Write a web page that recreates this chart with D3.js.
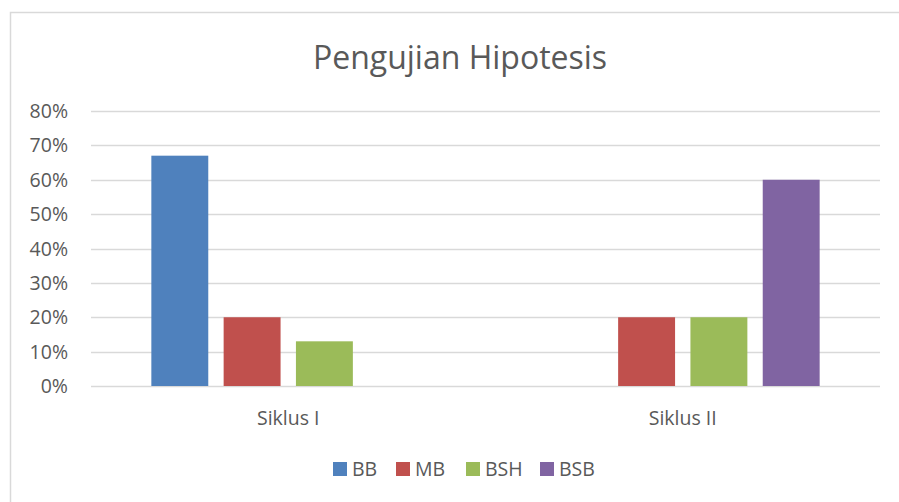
<!DOCTYPE html>
<html>
<head>
<meta charset="utf-8">
<script src="https://cdn.jsdelivr.net/npm/d3@7"></script>
<style>
    body { margin: 0; background: #fff; }
    text { font-family: "Open Sans", "Noto Sans", sans-serif; fill: #595959; }
</style>
</head>
<body>
<div id="chart"></div>
<script>
var categories = ["Siklus I", "Siklus II"];
var seriesNames = ["BB", "MB", "BSH", "BSB"];
var seriesColors = ["#4F81BD", "#C0504D", "#9BBB59", "#8064A2"];
var values = {
    "BB":  [0.67, 0],
    "MB":  [0.20, 0.20],
    "BSH": [0.13, 0.20],
    "BSB": [0, 0.60]
};
var yTicks = [0, 0.1, 0.2, 0.3, 0.4, 0.5, 0.6, 0.7, 0.8];

var w = 899, h = 502;
var margin = {top: 111, right: 19, bottom: 116, left: 91};
var width = w - margin.left - margin.right,
    height = h - margin.top - margin.bottom;

var svg = d3.select("#chart").append("svg")
    .attr("width", w)
    .attr("height", h);

// chart area border (cut off on right and bottom like the screenshot)
svg.append("path")
    .attr("d", "M10.5," + (h + 2) + "V12.5H" + (w + 2))
    .attr("fill", "none")
    .attr("stroke", "#D9D9D9")
    .attr("stroke-width", 1.5);

svg.append("text")
    .attr("x", 460)
    .attr("y", 69)
    .attr("text-anchor", "middle")
    .style("font-size", "32px")
    .text("Pengujian Hipotesis");

var g = svg.append("g")
    .attr("transform", "translate(" + margin.left + "," + margin.top + ")");

var y = d3.scaleLinear().domain([0, 0.8]).range([height, 0]);

var x0 = d3.scaleBand()
    .domain(categories)
    .range([0, width])
    .paddingInner(0)
    .paddingOuter(0);

// group width = 4 bars + 3 small gaps inside each band
var barW = x0.bandwidth() / 6.93;
var x1 = d3.scaleBand()
    .domain(seriesNames)
    .range([0, barW * 4 + barW * 0.27 * 3])
    .paddingInner(0.27 / 1.27)
    .paddingOuter(0);

// gridlines
g.selectAll(".grid")
    .data(yTicks)
    .enter().append("line")
    .attr("x1", 0)
    .attr("x2", width)
    .attr("y1", function (d) { return Math.round(y(d)) + 0.5; })
    .attr("y2", function (d) { return Math.round(y(d)) + 0.5; })
    .attr("stroke", "#D9D9D9")
    .attr("stroke-width", 1.5);

// y labels
g.selectAll(".ylab")
    .data(yTicks)
    .enter().append("text")
    .attr("x", -23)
    .attr("y", function (d) { return y(d); })
    .attr("dy", "0.36em")
    .attr("text-anchor", "end")
    .style("font-size", "19.5px")
    .text(function (d) { return Math.round(d * 100) + "%"; });

// bars
var groupW = x1.range()[1];
var group = g.selectAll(".cat")
    .data(categories)
    .enter().append("g")
    .attr("transform", function (d) {
        return "translate(" + (x0(d) + (x0.bandwidth() - groupW) / 2) + ",0)";
    });

group.selectAll("rect")
    .data(function (d, i) {
        return seriesNames.map(function (s, k) {
            return {name: s, value: values[s][i], color: seriesColors[k]};
        });
    })
    .enter().append("rect")
    .filter(function (d) { return d.value > 0; })
    .attr("x", function (d) { return x1(d.name); })
    .attr("width", x1.bandwidth())
    .attr("y", function (d) { return y(d.value); })
    .attr("height", function (d) { return height - y(d.value); })
    .attr("fill", function (d) { return d.color; });

// category labels
g.selectAll(".xlab")
    .data(categories)
    .enter().append("text")
    .attr("x", function (d) { return x0(d) + x0.bandwidth() / 2; })
    .attr("y", height + 39)
    .attr("text-anchor", "middle")
    .style("font-size", "19.5px")
    .text(function (d) { return d; });

// legend
var legendX = [333, 396, 466, 540];
var legend = svg.selectAll(".legend")
    .data(seriesNames)
    .enter().append("g")
    .attr("transform", function (d, i) { return "translate(" + legendX[i] + ",462)"; });

legend.append("rect")
    .attr("width", 14)
    .attr("height", 14)
    .attr("fill", function (d, i) { return seriesColors[i]; });

legend.append("text")
    .attr("x", 19)
    .attr("y", 7)
    .attr("dy", "0.36em")
    .style("font-size", "19.5px")
    .text(function (d) { return d; });
</script>
</body>
</html>
